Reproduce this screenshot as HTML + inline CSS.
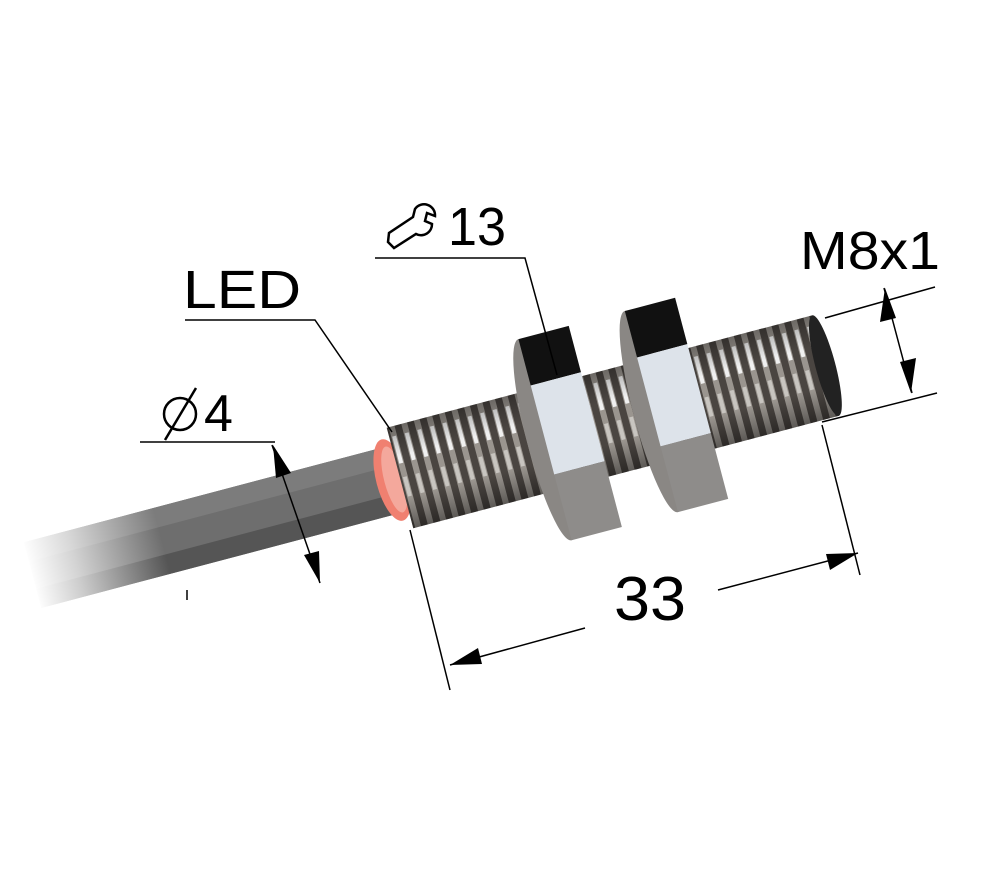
<!DOCTYPE html>
<html><head><style>
html,body{margin:0;padding:0;background:#fff;width:1000px;height:888px;overflow:hidden}
svg{display:block}
text{font-family:"Liberation Sans",Arial,sans-serif;fill:#000}
</style></head><body>
<svg width="1000" height="888" viewBox="0 0 1000 888">
<defs>
<linearGradient id="fade" x1="0" x2="1" y1="0" y2="0">
<stop offset="0" stop-color="#fff" stop-opacity="1"/><stop offset="0.12" stop-color="#fff" stop-opacity="0.7"/><stop offset="0.35" stop-color="#fff" stop-opacity="0"/>
</linearGradient>
<pattern id="thr" width="13" height="120" patternUnits="userSpaceOnUse" x="0" y="-60">
<rect width="13" height="120" fill="#4a4541"/>
<rect x="2" width="6" height="120" fill="#9a958f"/>
<rect x="3" y="18" width="4" height="28" fill="#f0f0f0"/>
<rect x="3" y="60" width="4" height="20" fill="#c8c5c0"/>
</pattern>
<linearGradient id="shade" x1="0" y1="0" x2="0" y2="1">
<stop offset="0" stop-color="#000" stop-opacity="0.3"/><stop offset="0.3" stop-color="#000" stop-opacity="0"/><stop offset="0.7" stop-color="#000" stop-opacity="0"/><stop offset="1" stop-color="#000" stop-opacity="0.4"/>
</linearGradient>
</defs>
<g transform="translate(400,478) rotate(-14.8)">
<rect x="-380" y="-34" width="385" height="68" fill="#6e6e6e"/>
<rect x="-380" y="-34" width="385" height="20" fill="#7c7c7c"/>
<rect x="-380" y="14" width="385" height="20" fill="#555"/>
<rect x="-382" y="-36" width="389" height="72" fill="url(#fade)"/>
<ellipse cx="-8" cy="0" rx="16" ry="42" fill="#f08070"/>
<ellipse cx="-6" cy="0" rx="10" ry="34" fill="#f4a89c"/>
<rect x="0" y="-52" width="440" height="104" fill="url(#thr)"/>
<rect x="0" y="-52" width="440" height="104" fill="url(#shade)"/>
<ellipse cx="440" cy="0" rx="10" ry="52" fill="#222"/>
<ellipse cx="150" cy="0" rx="18" ry="104" fill="#8a8784"/>
<rect x="150" y="-104" width="52" height="48" fill="#111"/>
<rect x="150" y="-56" width="52" height="92" fill="#dde3ea"/>
<rect x="150" y="36" width="52" height="68" fill="#8e8c8a"/>
<ellipse cx="260" cy="0" rx="18" ry="104" fill="#8a8784"/>
<rect x="260" y="-104" width="52" height="48" fill="#111"/>
<rect x="260" y="-56" width="52" height="92" fill="#dde3ea"/>
<rect x="260" y="36" width="52" height="68" fill="#8e8c8a"/>
</g>
<g stroke="#000" stroke-width="1.5" fill="none">
<polyline points="185,320 315,320 392,432"/>
<polyline points="375,258 525,258 557,375"/>
<line x1="140" y1="442" x2="275" y2="442"/>
<line x1="272" y1="445" x2="320" y2="583"/>
<line x1="825" y1="318" x2="935" y2="287"/>
<line x1="822" y1="422" x2="937" y2="393"/>
<line x1="884" y1="288" x2="912" y2="393"/>
<line x1="410" y1="530" x2="450" y2="690"/>
<line x1="822" y1="425" x2="860" y2="575"/>
<line x1="450" y1="665" x2="585" y2="628"/>
<line x1="718" y1="590" x2="858" y2="553"/>
<line x1="187" y1="590" x2="187" y2="600"/>
</g>
<g fill="#000">
<polygon points="885,288 880,322 896,318"/>
<polygon points="911,393 900,362 916,358"/>
<polygon points="273,445 276,478 291,473"/>
<polygon points="320,583 304,555 319,551"/>
<polygon points="450,665 478,648 482,664"/>
<polygon points="858,553 830,570 826,554"/>
</g>
<text x="183" y="308" font-size="54" textLength="118" lengthAdjust="spacingAndGlyphs">LED</text>
<text x="448" y="245" font-size="54" textLength="58" lengthAdjust="spacingAndGlyphs">13</text>
<text x="800" y="269" font-size="54" textLength="140" lengthAdjust="spacingAndGlyphs">M8x1</text>
<text x="204" y="431" font-size="52">4</text>
<text x="614" y="620" font-size="62" textLength="72" lengthAdjust="spacingAndGlyphs">33</text>
<g stroke="#000" stroke-width="2.5" fill="none">
<circle cx="180" cy="414" r="16"/>
<line x1="165" y1="440" x2="196" y2="388"/>
<path d="M388,242 l6,6 l22,-14 a11,11 0 0 0 16,-10 l-7,-3 l2,-8 l8,3 a11,11 0 0 0 -20,-7 l-2,8 l-24,16 z"/>
</g>
</svg>
</body></html>
